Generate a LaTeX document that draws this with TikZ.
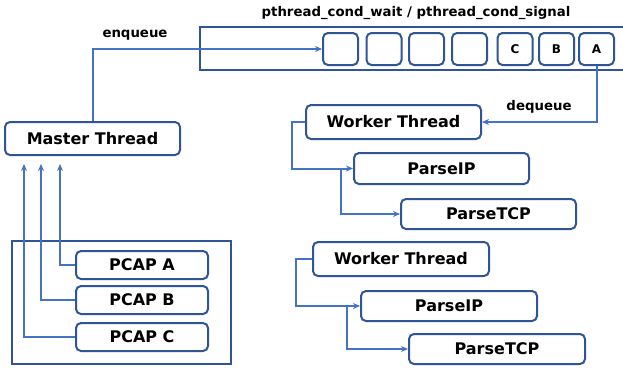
\documentclass[tikz,border=0pt]{standalone}
\usepackage{fontspec}
\setmainfont{DejaVu Sans}
\usetikzlibrary{arrows.meta,calc}
\definecolor{boxblue}{RGB}{47,85,151}
\definecolor{linkblue}{RGB}{68,114,196}
\tikzset{
  box/.style={draw=boxblue,line width=2pt,rounded corners=5pt,minimum width=175pt,minimum height=32pt,inner sep=0pt,font=\fontsize{16}{19}\selectfont\bfseries},
  qbox/.style={draw=boxblue,line width=2pt,rounded corners=5pt,minimum width=35pt,minimum height=32pt,inner sep=0pt,font=\fontsize{12}{14}\selectfont\bfseries},
  frame/.style={draw=boxblue,line width=2pt},
  link/.style={draw=linkblue,line width=2pt,-{Stealth[length=7pt,width=6pt]}},
  lbl/.style={font=\fontsize{13.3}{15}\selectfont\bfseries,inner sep=0pt}
}
\begin{document}
\begin{tikzpicture}[x=1pt,y=1pt]
\useasboundingbox[fill=white] (0,0) rectangle (623,368);
% queue frame
\draw[frame] (627,298) -- (200,298) -- (200,341) -- (627,341);
\node[lbl] (title) at (416,355) {pthread\_cond\_wait / pthread\_cond\_signal};
\node[qbox] (q1) at (340.5,319) {};
\node[qbox] (q2) at (384,319) {};
\node[qbox] (q3) at (426.5,319) {};
\node[qbox] (q4) at (469.5,319) {};
\node[qbox] (qC) at (515,319) {C};
\node[qbox] (qB) at (556.5,319) {B};
\node[qbox] (qA) at (596.5,319) {A};
% threads
\node[box,minimum height=33pt] (ms) at (92.5,229.5) {Master Thread};
\node[box,minimum height=34pt] (wt1) at (393.5,246) {Worker Thread};
\node[box,minimum height=31pt] (ip1) at (441.5,199.5) {ParseIP};
\node[box,minimum height=30pt] (tcp1) at (488.5,154) {ParseTCP};
\node[box,minimum width=176pt,minimum height=34pt] (wt2) at (401,109) {Worker Thread};
\node[box,minimum width=176pt,minimum height=30pt] (ip2) at (449,62) {ParseIP};
\node[box,minimum width=176pt,minimum height=30pt] (tcp2) at (497,19) {ParseTCP};
% pcap frame
\draw[frame] (12,4) rectangle (231,127);
\node[box,minimum width=132pt,minimum height=28pt] (pa) at (142,103) {PCAP A};
\node[box,minimum width=132pt,minimum height=28pt] (pb) at (142,68) {PCAP B};
\node[box,minimum width=132pt,minimum height=28pt] (pc) at (142,31) {PCAP C};
% labels
\node[lbl] (enq) at (135,333) {enqueue};
\node[lbl] (deq) at (539,261) {dequeue};
% connectors
\draw[link] (ms.north) |- (q1.west);
\draw[link] (qA.south) |- (wt1.east);
\draw[link] (wt1.west) -- ++(-13,0) |- (ip1.west);
\draw[link] ($(ip1.west)+(-12,0)$) |- (tcp1.west);
\draw[link] (wt2.west) -- ++(-16,0) |- (ip2.west);
\draw[link] ($(ip2.west)+(-13,0)$) |- (tcp2.west);
\coordinate (ea) at ($(ms.south west)+(56,-8)$);
\coordinate (eb) at ($(ms.south west)+(37,-8)$);
\coordinate (ec) at ($(ms.south west)+(20,-8)$);
\draw[link] (pa.west) -| (ea);
\draw[link] (pb.west) -| (eb);
\draw[link] (pc.west) -| (ec);
\end{tikzpicture}
\end{document}
